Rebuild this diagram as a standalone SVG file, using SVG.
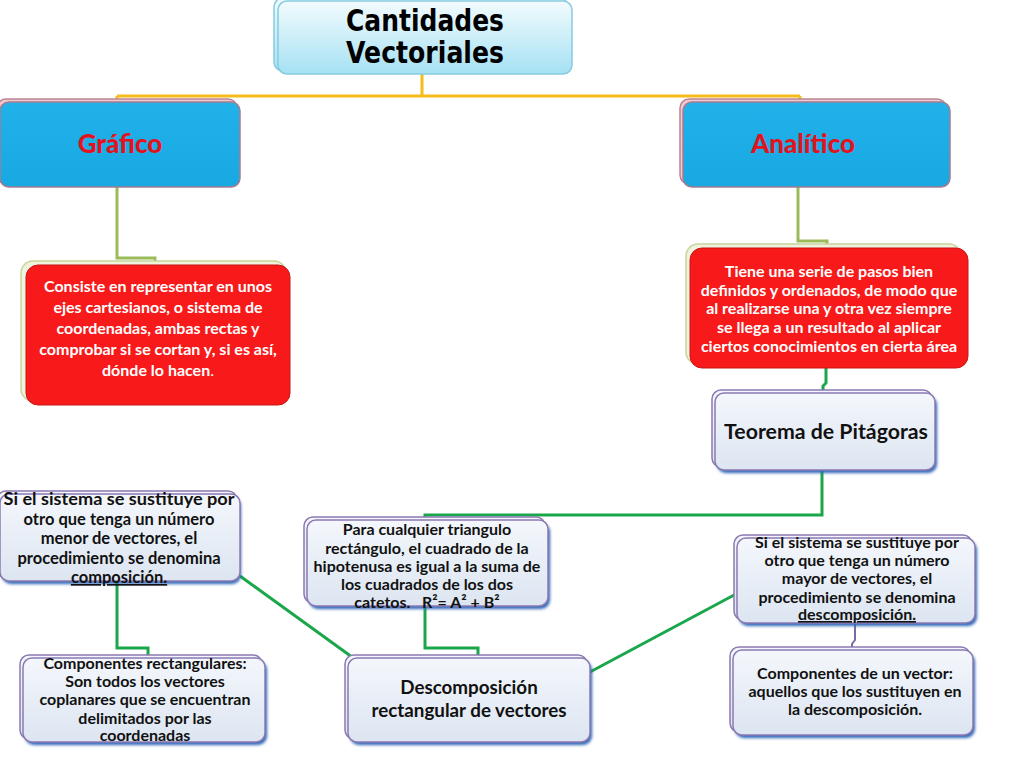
<svg xmlns="http://www.w3.org/2000/svg" width="1024" height="768" viewBox="0 0 1024 768">
<defs>
<linearGradient id="gTitle" x1="0" y1="0" x2="0" y2="1"><stop offset="0" stop-color="#F2FBFE"/><stop offset="1" stop-color="#A6E1F3"/></linearGradient>
<linearGradient id="gBlue" x1="0" y1="0" x2="0" y2="1"><stop offset="0" stop-color="#22B2EA"/><stop offset="1" stop-color="#18A8E2"/></linearGradient>
<linearGradient id="gLight" x1="0" y1="0" x2="0" y2="1"><stop offset="0" stop-color="#F4F7FC"/><stop offset="1" stop-color="#DCE5F1"/></linearGradient>
<filter id="blur" x="-10%" y="-10%" width="120%" height="130%"><feGaussianBlur stdDeviation="1.5"/></filter>
<style>
.title{font-family:"DejaVu Sans","Liberation Sans",sans-serif;font-weight:bold;font-size:30px;fill:#000;text-anchor:middle}
.head{font-family:Lato,"Liberation Sans",sans-serif;font-weight:900;font-size:26px;fill:#E3121C;text-anchor:middle}
.wt{font-family:Lato,"Liberation Sans",sans-serif;font-weight:bold;font-size:16px;fill:#FFFFFF;text-anchor:middle}
.bt{font-family:Lato,"Liberation Sans",sans-serif;font-weight:bold;font-size:16px;fill:#111;text-anchor:middle}
.bl{font-family:Lato,"Liberation Sans",sans-serif;font-weight:bold;font-size:16.5px;fill:#111;text-anchor:middle}
.bt2{font-family:Lato,"Liberation Sans",sans-serif;font-weight:bold;font-size:18.8px;fill:#111;text-anchor:middle}
.bt3{font-family:Lato,"Liberation Sans",sans-serif;font-weight:bold;font-size:21.3px;fill:#111;text-anchor:middle}
.ul{text-decoration:underline}
.back{stroke:#8C7AB2;stroke-width:1.5;fill:url(#gLight)}
.front{stroke:#8C7AB2;stroke-width:1.5;fill:url(#gLight)}
.shadow{fill:#2F66B8;filter:url(#blur)}
.bluebox{fill:url(#gBlue);stroke:#A57B92;stroke-width:1.5}
.blueback{fill:#F2C9CF;stroke:#B98595;stroke-width:1.5}
.redbox{fill:#F81A1A;stroke:#C91515;stroke-width:1}
.redback{fill:#EEF3DE;stroke:#C7D49C;stroke-width:1.5}
.titlebox{fill:url(#gTitle);stroke:#86CBE0;stroke-width:1.5}
.cy{fill:none;stroke:#F6BC1A;stroke-width:3}
.co{fill:none;stroke:#9BBB59;stroke-width:3}
.cg{fill:none;stroke:#1AA64A;stroke-width:3}
.cp{fill:none;stroke:#7A6AA8;stroke-width:2}
</style>
</defs>
<rect width="1024" height="768" fill="#FFFFFF"/>

<g id="connectors">
<path class="cy" d="M422 74 V96 M117 96 H800 M117 96 V101 M800 96 V101"/>
<path class="co" d="M117 187 V258 H155 V264"/>
<path class="co" d="M798 187 V241 H827 V247"/>
<path class="cg" d="M826 368 V383 L823 386 V390"/>
<path class="cg" d="M822 470 V515 H425 V519"/>
<path class="cg" d="M117 580 V648 H148 V657"/>
<path class="cg" d="M425 606 V648 H478 V657"/>
<path class="cg" d="M240 576 L352 657"/>
<path class="cg" d="M590 672 L736 594"/>
<path class="cp" d="M855 623 V640 L852 644 V650"/>
</g>

<g id="title">
<rect class="titlebox" x="274" y="-2" width="294" height="73" rx="9"/>
<rect class="titlebox" x="278" y="1" width="294" height="73" rx="9"/>
<text class="title" x="425" y="31" textLength="158" lengthAdjust="spacingAndGlyphs">Cantidades</text>
<text class="title" x="425" y="63" textLength="158" lengthAdjust="spacingAndGlyphs">Vectoriales</text>
</g>

<g id="grafico">
<rect class="blueback" x="-3" y="99" width="240" height="85" rx="9"/>
<rect class="bluebox" x="0" y="102" width="240" height="85" rx="9"/>
<text class="head" x="120" y="153">Gráfico</text>
</g>

<g id="analitico">
<rect class="blueback" x="680" y="99" width="266" height="85" rx="9"/>
<rect class="bluebox" x="683" y="102" width="267" height="85" rx="9"/>
<text class="head" x="803" y="153">Analítico</text>
</g>

<g id="grafico-def">
<rect class="redback" x="21" y="261" width="265" height="140" rx="12"/>
<rect class="redbox" x="26" y="265" width="264" height="140" rx="12"/>
<text class="wt" x="158" y="292">Consiste en representar en unos</text>
<text class="wt" x="158" y="313">ejes cartesianos, o sistema de</text>
<text class="wt" x="158" y="334">coordenadas, ambas rectas y</text>
<text class="wt" x="158" y="355">comprobar si se cortan y, si es así,</text>
<text class="wt" x="158" y="376">dónde lo hacen<tspan font-weight="normal">.</tspan></text>
</g>

<g id="analitico-def">
<rect class="redback" x="686" y="244" width="275" height="120" rx="12"/>
<rect class="redbox" x="690" y="248" width="278" height="120" rx="12"/>
<text class="wt" x="829" y="277">Tiene una serie de pasos bien</text>
<text class="wt" x="829" y="296">definidos y ordenados, de modo que</text>
<text class="wt" x="829" y="314">al realizarse una y otra vez siempre</text>
<text class="wt" x="829" y="333">se llega a un resultado al aplicar</text>
<text class="wt" x="829" y="352">ciertos conocimientos en cierta área</text>
</g>

<g id="teorema">
<rect class="shadow" x="717" y="396" width="220" height="77" rx="9"/>
<rect class="back" x="712" y="390" width="220" height="77" rx="9"/>
<rect class="front" x="715" y="393" width="220" height="77" rx="9"/>
<text class="bt3" x="826" y="439">Teorema de Pitágoras</text>
</g>

<g id="composicion">
<rect class="shadow" x="2" y="497" width="239" height="87" rx="9"/>
<rect class="back" x="-3" y="491" width="240" height="87" rx="9"/>
<rect class="front" x="0" y="494" width="240" height="87" rx="9"/>
<text class="bl" x="119" y="505" textLength="231" lengthAdjust="spacingAndGlyphs">Si el sistema se sustituye por</text>
<text class="bl" x="119" y="524.5">otro que tenga un número</text>
<text class="bl" x="119" y="544">menor de vectores, el</text>
<text class="bl" x="119" y="563.5">procedimiento se denomina</text>
<text class="bl ul" x="119" y="583">composición.</text>
</g>

<g id="pitagoras">
<rect class="shadow" x="309" y="523" width="241" height="86" rx="9"/>
<rect class="back" x="304" y="517" width="241" height="86" rx="9"/>
<rect class="front" x="307" y="520" width="241" height="86" rx="9"/>
<text class="bt" x="427" y="535">Para cualquier triangulo</text>
<text class="bt" x="427" y="554">rectángulo, el cuadrado de la</text>
<text class="bt" x="427" y="572">hipotenusa es igual a la suma de</text>
<text class="bt" x="427" y="590">los cuadrados de los dos</text>
<text class="bt" x="427" y="608" xml:space="preserve">catetos.   R²= A² + B²</text>
</g>

<g id="descomposicion">
<rect class="shadow" x="739" y="541" width="238" height="85" rx="9"/>
<rect class="back" x="734" y="535" width="238" height="85" rx="9"/>
<rect class="front" x="737" y="538" width="238" height="85" rx="9"/>
<text class="bt" x="857" y="548">Si el sistema se sustituye por</text>
<text class="bt" x="857" y="566">otro que tenga un número</text>
<text class="bt" x="857" y="584">mayor de vectores, el</text>
<text class="bt" x="857" y="603">procedimiento se denomina</text>
<text class="bt ul" x="857" y="620">descomposición.</text>
</g>

<g id="componentes-rect">
<rect class="shadow" x="25" y="661" width="242" height="84" rx="9"/>
<rect class="back" x="20" y="655" width="242" height="84" rx="9"/>
<rect class="front" x="23" y="658" width="242" height="84" rx="9"/>
<text class="bt" x="145" y="669">Componentes rectangulares:</text>
<text class="bt" x="145" y="687">Son todos los vectores</text>
<text class="bt" x="145" y="705">coplanares que se encuentran</text>
<text class="bt" x="145" y="724">delimitados por las</text>
<text class="bt" x="145" y="741">coordenadas</text>
</g>

<g id="descomp-rect">
<rect class="shadow" x="350" y="661" width="242" height="84" rx="9"/>
<rect class="back" x="345" y="655" width="242" height="84" rx="9"/>
<rect class="front" x="348" y="658" width="242" height="84" rx="9"/>
<text class="bt2" x="469" y="694">Descomposición</text>
<text class="bt2" x="469" y="717">rectangular de vectores</text>
</g>

<g id="componentes-vector">
<rect class="shadow" x="735" y="653" width="240" height="85" rx="9"/>
<rect class="back" x="730" y="647" width="240" height="85" rx="9"/>
<rect class="front" x="733" y="650" width="240" height="85" rx="9"/>
<text class="bt" x="855" y="679">Componentes de un vector:</text>
<text class="bt" x="855" y="697">aquellos que los sustituyen en</text>
<text class="bt" x="855" y="715">la descomposición.</text>
</g>
</svg>
